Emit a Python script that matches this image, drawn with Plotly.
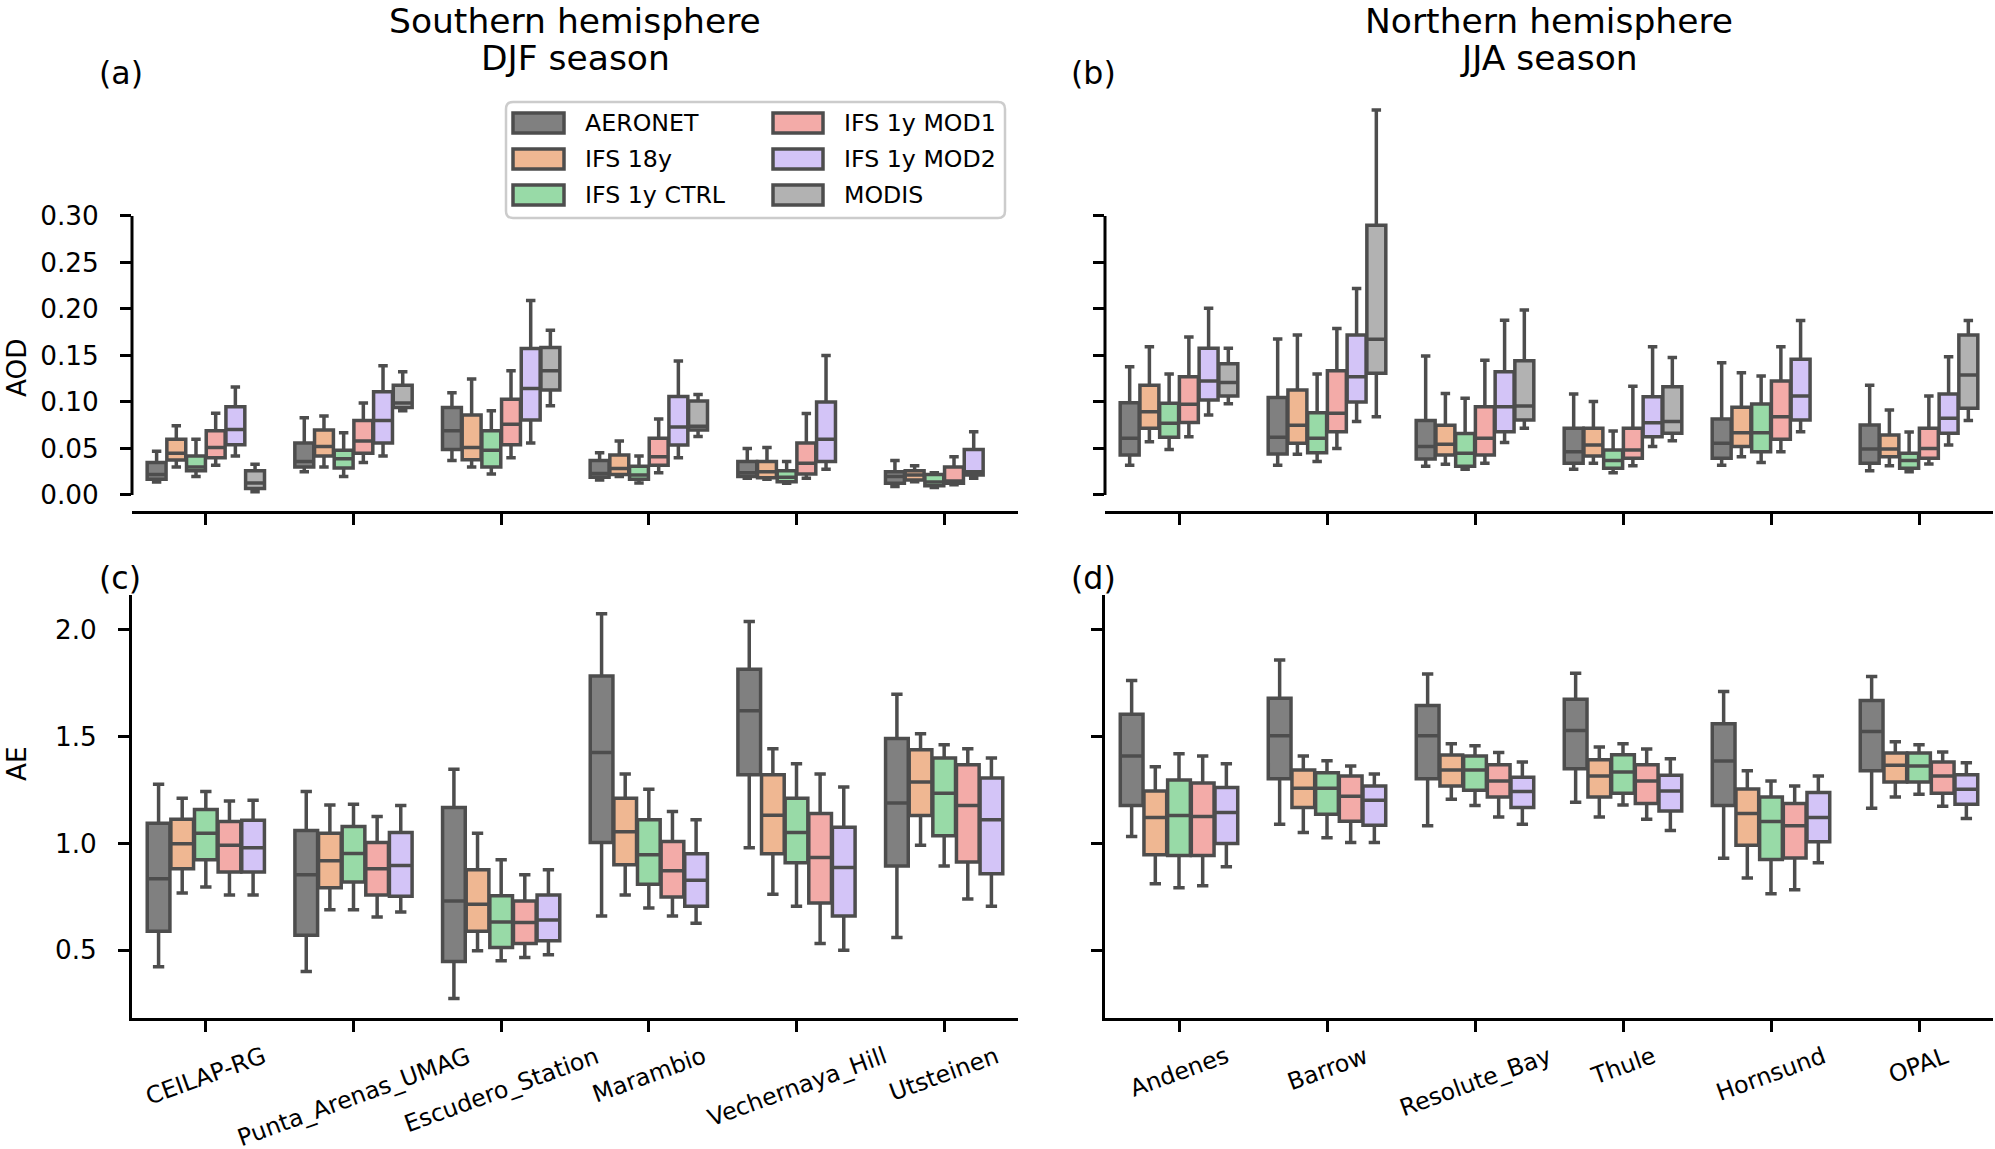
import plotly.graph_objects as go

# stations per hemisphere
stations_south = ["CEILAP-RG", "Punta_Arenas_UMAG", "Escudero_Station", "Marambio", "Vechernaya_Hill", "Utsteinen"]
stations_north = ["Andenes", "Barrow", "Resolute_Bay", "Thule", "Hornsund", "OPAL"]
modis_south = ["CEILAP-RG", "Punta_Arenas_UMAG", "Escudero_Station", "Marambio"]
modis_north = ["Andenes", "Barrow", "Resolute_Bay", "Thule", "OPAL"]

series = ["AERONET", "IFS 18y", "IFS 1y CTRL", "IFS 1y MOD1", "IFS 1y MOD2", "MODIS"]
colors = ["#808080", "#EFB792", "#98DAA7", "#F3ABA8", "#D3C4F7", "#B2B2B2"]

# box stats per station: (lower whisker, q1, median, q3, upper whisker)
# AOD, southern hemisphere DJF
aod_s_aeronet = [(0.014, 0.017, 0.022, 0.035, 0.047), (0.025, 0.030, 0.036, 0.056, 0.083),
                 (0.037, 0.049, 0.069, 0.094, 0.110), (0.016, 0.019, 0.023, 0.037, 0.0455),
                 (0.018, 0.020, 0.024, 0.036, 0.050), (0.009, 0.0125, 0.020, 0.025, 0.037)]
aod_s_18y = [(0.030, 0.0376, 0.045, 0.060, 0.0745), (0.030, 0.042, 0.052, 0.070, 0.085),
             (0.030, 0.038, 0.051, 0.086, 0.1246), (0.020, 0.022, 0.0286, 0.043, 0.058),
             (0.017, 0.0186, 0.025, 0.036, 0.051), (0.0143, 0.016, 0.0215, 0.026, 0.0315)]
aod_s_ctrl = [(0.020, 0.026, 0.030, 0.042, 0.060), (0.020, 0.029, 0.039, 0.048, 0.067),
              (0.0226, 0.030, 0.048, 0.069, 0.0906), (0.013, 0.017, 0.0215, 0.031, 0.042),
              (0.0125, 0.0143, 0.019, 0.026, 0.036), (0.008, 0.010, 0.014, 0.022, 0.024)]
aod_s_mod1 = [(0.032, 0.040, 0.051, 0.069, 0.088), (0.035, 0.045, 0.058, 0.080, 0.099),
              (0.040, 0.054, 0.076, 0.103, 0.1335), (0.024, 0.032, 0.041, 0.061, 0.0816),
              (0.018, 0.0226, 0.034, 0.056, 0.0877), (0.011, 0.0125, 0.015, 0.030, 0.041)]
aod_s_mod2 = [(0.042, 0.054, 0.0705, 0.095, 0.116), (0.042, 0.056, 0.080, 0.111, 0.139),
              (0.056, 0.0806, 0.1146, 0.1575, 0.209), (0.040, 0.0537, 0.073, 0.106, 0.144),
              (0.0276, 0.036, 0.060, 0.100, 0.150), (0.018, 0.0215, 0.025, 0.049, 0.068)]
aod_s_modis = [(0.0036, 0.007, 0.013, 0.026, 0.033), (0.0906, 0.094, 0.099, 0.118, 0.1325),
               (0.096, 0.1128, 0.1335, 0.1586, 0.177), (0.063, 0.070, 0.074, 0.101, 0.108)]

# AOD, northern hemisphere JJA
aod_n_aeronet = [(0.032, 0.043, 0.061, 0.0993, 0.138), (0.032, 0.044, 0.062, 0.1047, 0.1677),
                 (0.031, 0.0387, 0.052, 0.080, 0.1495), (0.0276, 0.034, 0.0466, 0.0717, 0.1086),
                 (0.032, 0.0394, 0.0556, 0.0817, 0.1423), (0.026, 0.034, 0.0495, 0.0753, 0.118)]
aod_n_18y = [(0.0573, 0.0717, 0.0896, 0.118, 0.1595), (0.0437, 0.0556, 0.075, 0.113, 0.172),
             (0.033, 0.043, 0.0545, 0.075, 0.109), (0.034, 0.042, 0.0538, 0.0717, 0.1004),
             (0.041, 0.052, 0.067, 0.0943, 0.1315), (0.0315, 0.041, 0.0495, 0.0645, 0.0914)]
aod_n_ctrl = [(0.049, 0.062, 0.077, 0.0986, 0.130), (0.036, 0.0455, 0.061, 0.0885, 0.130),
              (0.0276, 0.031, 0.0448, 0.066, 0.104), (0.024, 0.0287, 0.037, 0.0484, 0.0688),
              (0.0348, 0.0466, 0.067, 0.0978, 0.128), (0.025, 0.0287, 0.037, 0.0448, 0.0677)]
aod_n_mod1 = [(0.0627, 0.078, 0.0975, 0.127, 0.170), (0.050, 0.068, 0.0878, 0.1337, 0.179),
              (0.034, 0.043, 0.061, 0.095, 0.145), (0.0315, 0.0394, 0.0484, 0.0717, 0.117),
              (0.0466, 0.060, 0.0842, 0.1226, 0.1595), (0.0333, 0.0394, 0.050, 0.0717, 0.1065)]
aod_n_mod2 = [(0.086, 0.102, 0.1226, 0.1577, 0.2007), (0.0789, 0.100, 0.127, 0.172, 0.222),
              (0.0563, 0.068, 0.095, 0.1326, 0.188), (0.052, 0.0627, 0.0778, 0.1057, 0.1595),
              (0.068, 0.0806, 0.1065, 0.1459, 0.1875), (0.0538, 0.0663, 0.0824, 0.1086, 0.1487)]
aod_n_modis = [(0.098, 0.1065, 0.121, 0.141, 0.1577), (0.084, 0.131, 0.1674, 0.290, 0.414),
               (0.0717, 0.0806, 0.0957, 0.1444, 0.199), (0.0584, 0.0663, 0.0789, 0.1165, 0.1477),
               (0.080, 0.0932, 0.129, 0.172, 0.1875)]

# AE, southern hemisphere DJF
ae_s_aeronet = [(0.4226, 0.589, 0.834, 1.094, 1.277), (0.40, 0.570, 0.853, 1.060, 1.243),
                (0.274, 0.447, 0.730, 1.168, 1.347), (0.660, 1.004, 1.425, 1.783, 2.074),
                (0.979, 1.321, 1.621, 1.815, 2.038), (0.560, 0.894, 1.189, 1.491, 1.698)]
ae_s_18y = [(0.768, 0.881, 0.998, 1.113, 1.211), (0.689, 0.792, 0.919, 1.047, 1.179),
            (0.498, 0.589, 0.715, 0.877, 1.047), (0.758, 0.900, 1.055, 1.211, 1.325),
            (0.762, 0.951, 1.132, 1.321, 1.443), (0.991, 1.130, 1.287, 1.438, 1.513)]
ae_s_ctrl = [(0.796, 0.923, 1.047, 1.158, 1.243), (0.689, 0.819, 0.953, 1.079, 1.183),
             (0.451, 0.513, 0.632, 0.755, 0.923), (0.698, 0.809, 0.947, 1.111, 1.253),
             (0.706, 0.909, 1.051, 1.211, 1.372), (0.894, 1.036, 1.234, 1.400, 1.462)]
ae_s_mod1 = [(0.758, 0.866, 0.991, 1.102, 1.198), (0.655, 0.758, 0.881, 1.004, 1.126),
             (0.466, 0.532, 0.630, 0.730, 0.853), (0.660, 0.749, 0.872, 1.009, 1.149),
             (0.532, 0.721, 0.934, 1.140, 1.325), (0.740, 0.913, 1.177, 1.368, 1.443)]
ae_s_mod2 = [(0.758, 0.866, 0.979, 1.108, 1.202), (0.679, 0.753, 0.896, 1.051, 1.177),
             (0.479, 0.545, 0.642, 0.758, 0.877), (0.626, 0.706, 0.828, 0.951, 1.111),
             (0.500, 0.660, 0.887, 1.075, 1.264), (0.706, 0.858, 1.111, 1.306, 1.400)]

# AE, northern hemisphere JJA
ae_n_aeronet = [(1.032, 1.177, 1.409, 1.604, 1.762), (1.089, 1.302, 1.504, 1.679, 1.858),
                (1.083, 1.302, 1.504, 1.645, 1.792), (1.192, 1.349, 1.528, 1.674, 1.796),
                (0.930, 1.177, 1.385, 1.560, 1.711), (1.164, 1.340, 1.523, 1.668, 1.781)]
ae_n_18y = [(0.811, 0.947, 1.121, 1.245, 1.358), (1.051, 1.168, 1.258, 1.343, 1.409),
            (1.206, 1.268, 1.343, 1.413, 1.466), (1.123, 1.217, 1.315, 1.391, 1.451),
            (0.838, 0.991, 1.140, 1.255, 1.340), (1.217, 1.287, 1.366, 1.423, 1.475)]
ae_n_ctrl = [(0.792, 0.943, 1.130, 1.296, 1.419), (1.026, 1.136, 1.258, 1.330, 1.387),
             (1.177, 1.249, 1.343, 1.409, 1.457), (1.179, 1.234, 1.334, 1.415, 1.466),
             (0.764, 0.925, 1.102, 1.217, 1.292), (1.230, 1.287, 1.362, 1.423, 1.462)]
ae_n_mod1 = [(0.802, 0.943, 1.126, 1.283, 1.409), (1.004, 1.104, 1.221, 1.315, 1.362),
             (1.123, 1.217, 1.292, 1.368, 1.425), (1.113, 1.187, 1.292, 1.368, 1.442),
             (0.783, 0.932, 1.083, 1.187, 1.268), (1.174, 1.234, 1.315, 1.381, 1.428)]
ae_n_mod2 = [(0.891, 1.000, 1.145, 1.262, 1.372), (1.004, 1.085, 1.202, 1.268, 1.325),
             (1.089, 1.168, 1.243, 1.309, 1.381), (1.060, 1.151, 1.245, 1.319, 1.396),
             (0.909, 1.008, 1.121, 1.238, 1.315), (1.117, 1.183, 1.253, 1.321, 1.377)]

aod_ticks = [0.0, 0.05, 0.10, 0.15, 0.20, 0.25, 0.30]
ae_ticks = [0.5, 1.0, 1.5, 2.0]

W, H = 1995, 1149
FONT = "DejaVu Sans"
LINE = "#4d4d4d"


def px(x):
    return x / W


def py(y):
    return 1 - y / H


panels = [
    # axis suffix, stations, per-series (stations, stats)
    ("", stations_south, [(stations_south, aod_s_aeronet), (stations_south, aod_s_18y),
                          (stations_south, aod_s_ctrl), (stations_south, aod_s_mod1),
                          (stations_south, aod_s_mod2), (modis_south, aod_s_modis)]),
    ("2", stations_north, [(stations_north, aod_n_aeronet), (stations_north, aod_n_18y),
                           (stations_north, aod_n_ctrl), (stations_north, aod_n_mod1),
                           (stations_north, aod_n_mod2), (modis_north, aod_n_modis)]),
    ("3", stations_south, [(stations_south, ae_s_aeronet), (stations_south, ae_s_18y),
                           (stations_south, ae_s_ctrl), (stations_south, ae_s_mod1),
                           (stations_south, ae_s_mod2)]),
    ("4", stations_north, [(stations_north, ae_n_aeronet), (stations_north, ae_n_18y),
                           (stations_north, ae_n_ctrl), (stations_north, ae_n_mod1),
                           (stations_north, ae_n_mod2)]),
]

fig = go.Figure()
for suffix, _, data in panels:
    for k, (xs, stats) in enumerate(data):
        fig.add_trace(go.Box(
            x=xs,
            lowerfence=[s[0] for s in stats],
            q1=[s[1] for s in stats],
            median=[s[2] for s in stats],
            q3=[s[3] for s in stats],
            upperfence=[s[4] for s in stats],
            name=series[k],
            offsetgroup=series[k],
            fillcolor=colors[k],
            line=dict(color=LINE, width=3.5),
            whiskerwidth=0.5,
            boxpoints=False,
            showlegend=False,
            xaxis="x" + suffix,
            yaxis="y" + suffix,
        ))

xdom_l = [px(132), px(1018)]
xdom_r = [px(1105), px(1993)]
ydom_t = [py(510.7), py(92)]
ydom_b = [py(1018), py(594.6)]

axis_common = dict(showgrid=False, zeroline=False, ticks="outside", ticklen=11, tickwidth=3,
                   tickcolor="black", linecolor="black", linewidth=3,
                   tickfont=dict(family=FONT, size=26.3, color="black"))

layout = dict(
    width=W, height=H,
    margin=dict(l=0, r=0, t=0, b=0),
    paper_bgcolor="white", plot_bgcolor="white",
    boxmode="group", boxgap=0.2, boxgroupgap=0.04,
    font=dict(family=FONT, color="black"),
    showlegend=False,
)
for suffix, cats, _ in panels:
    top = suffix in ("", "2")
    left = suffix in ("", "3")
    layout["xaxis" + suffix] = dict(axis_common, type="category", categoryorder="array",
                                    categoryarray=cats, range=[-0.5, 5.5],
                                    domain=xdom_l if left else xdom_r,
                                    anchor="y" + suffix, showline=True, showticklabels=False)
    layout["yaxis" + suffix] = dict(axis_common, domain=ydom_t if top else ydom_b,
                                    anchor="x" + suffix,
                                    range=[-0.0169, 0.4333] if top else [0.183, 2.164],
                                    tickvals=aod_ticks if top else ae_ticks,
                                    tickformat=".2f" if top else ".1f",
                                    showline=not top, showticklabels=left,
                                    ticklabelstandoff=16)
fig.update_layout(**layout)

shapes = []
annotations = []

# trimmed left spines on AOD panels
for suffix in ("", "2"):
    shapes.append(dict(type="line", xref="x%s domain" % suffix, yref="y" + suffix,
                       x0=0, x1=0, y0=aod_ticks[0], y1=aod_ticks[-1],
                       line=dict(color="black", width=3)))

# rotated station labels under the AE panels
for suffix, cats in (("3", stations_south), ("4", stations_north)):
    for c in cats:
        annotations.append(dict(x=c, xref="x" + suffix, y=0, yref="y%s domain" % suffix,
                                xanchor="center", yanchor="top", yshift=-21, textangle=-20,
                                text=c, showarrow=False,
                                font=dict(family=FONT, size=23.7, color="black")))

# column titles
for cx, l1, l2 in ((575, "Southern hemisphere", "DJF season"),
                   (1549, "Northern hemisphere", "JJA season")):
    for yy, t in ((21.5, l1), (58, l2)):
        annotations.append(dict(x=px(cx), y=py(yy), xref="paper", yref="paper", text=t,
                                showarrow=False, xanchor="center", yanchor="middle",
                                font=dict(family=FONT, size=34.5, color="black")))

# panel letters
for lx, ly, t in ((97, 73, "(a)"), (1069, 73, "(b)"), (97, 578, "(c)"), (1069, 578, "(d)")):
    annotations.append(dict(x=px(lx), y=py(ly), xref="paper", yref="paper", text=t,
                            showarrow=False, xanchor="left", yanchor="middle",
                            font=dict(family=FONT, size=31.6, color="black")))

# y axis titles
for yy, t in ((368, "AOD"), (764, "AE")):
    annotations.append(dict(x=0, y=py(yy), xref="paper", yref="paper", text=t,
                            showarrow=False, xanchor="left", yanchor="middle", textangle=-90,
                            font=dict(family=FONT, size=26.3, color="black")))

# legend box drawn in two columns
x0, y0, x1, y1, r = 506, 102, 1005, 218, 7
frame = ("M {a},{b} L {c},{b} Q {d},{b} {d},{e} L {d},{f} Q {d},{g} {c},{g} "
         "L {a},{g} Q {h},{g} {h},{f} L {h},{e} Q {h},{b} {a},{b} Z").format(
    a=px(x0 + r), b=py(y0), c=px(x1 - r), d=px(x1), e=py(y0 + r), f=py(y1 - r),
    g=py(y1), h=px(x0))
shapes.append(dict(type="path", xref="paper", yref="paper", path=frame,
                   fillcolor="rgba(255,255,255,0.8)", line=dict(color="#cccccc", width=2.5)))
rows = [123, 159, 195]
cols = [(513, 564, 583), (773, 823, 842)]
for k, name in enumerate(series):
    c0, c1, tx = cols[k // 3]
    ry = rows[k % 3]
    shapes.append(dict(type="rect", xref="paper", yref="paper",
                       x0=px(c0), x1=px(c1), y0=py(ry + 10), y1=py(ry - 10),
                       fillcolor=colors[k], line=dict(color=LINE, width=3.5)))
    annotations.append(dict(x=px(tx), y=py(ry), xref="paper", yref="paper", text=name,
                            showarrow=False, xanchor="left", yanchor="middle",
                            font=dict(family=FONT, size=23.7, color="black")))

fig.update_layout(shapes=shapes, annotations=annotations)
# page body has a default 8px margin; drop it so the figure sits at the window corner
fig.write_html("out.html", config={"displayModeBar": False},
               post_script="document.body.style.margin='0';")
